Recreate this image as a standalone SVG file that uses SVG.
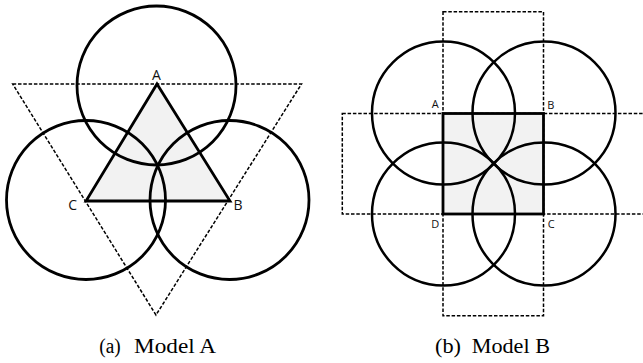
<svg xmlns="http://www.w3.org/2000/svg" width="643" height="363" viewBox="0 0 643 363">
<style>
.bg{fill:#ffffff}
.circ{fill:none;stroke:#000;stroke-width:2.8}
.circB{fill:none;stroke:#000;stroke-width:2.5}
.shape{fill:#f2f2f2;stroke:#000;stroke-width:2.8;stroke-linejoin:miter}
.dash{fill:none;stroke:#000;stroke-width:1.5;stroke-dasharray:3.5 1.8}
.lblA{font-family:"Open Sans","Noto Sans",sans-serif;font-size:14px;fill:#111;text-anchor:middle}
.lblB{font-family:"Open Sans","Noto Sans",sans-serif;font-size:11px;fill:#111;text-anchor:middle}
.cap{font-family:"Liberation Serif","Times New Roman",serif;font-size:20px;fill:#000}
</style>
<rect class="bg" x="0" y="0" width="643" height="363"/>
<g id="modelA">
  <g id="connectors-A">
    <polygon class="dash" points="12.7,84 301.5,84 156,315"/>
  </g>
  <g id="triangleA">
    <polygon class="shape" points="157,84 230,201 86,201"/>
  </g>
  <g id="circleA-A"><circle class="circ" cx="156.5" cy="85.5" r="79.5"/></g>
  <g id="circleA-C"><circle class="circ" cx="86" cy="200" r="79.5"/></g>
  <g id="circleA-B"><circle class="circ" cx="229.5" cy="200" r="79.5"/></g>
  <g id="labelsA">
    <text class="lblA" x="156.5" y="79.5">A</text>
    <text class="lblA" x="72.7" y="210">C</text>
    <text class="lblA" x="238" y="210">B</text>
  </g>
</g>
<g id="modelB">
  <g id="connectors-B">
    <rect class="dash" x="443" y="11.7" width="100.5" height="304"/>
    <rect class="dash" x="342.3" y="113.5" width="303" height="100.5"/>
  </g>
  <g id="squareB">
    <rect class="shape" x="443" y="113.5" width="100.5" height="100.5"/>
  </g>
  <g id="circleB-A"><circle class="circB" cx="443.5" cy="113" r="71.5"/></g>
  <g id="circleB-B"><circle class="circB" cx="544" cy="113" r="71.5"/></g>
  <g id="circleB-D"><circle class="circB" cx="443.5" cy="214" r="71.5"/></g>
  <g id="circleB-C"><circle class="circB" cx="544" cy="214" r="71.5"/></g>
  <g id="labelsB">
    <text class="lblB" x="435.3" y="108">A</text>
    <text class="lblB" x="550.7" y="108.5">B</text>
    <text class="lblB" x="435.3" y="228">D</text>
    <text class="lblB" x="551.3" y="228">C</text>
  </g>
</g>
<g id="captions">
  <text class="cap" x="99.3" y="353" textLength="21.4" lengthAdjust="spacingAndGlyphs">(a)</text>
  <text class="cap" x="134" y="353" textLength="82" lengthAdjust="spacingAndGlyphs">Model A</text>
  <text class="cap" x="435" y="353" textLength="26" lengthAdjust="spacingAndGlyphs">(b)</text>
  <text class="cap" x="471.7" y="353" textLength="78.3" lengthAdjust="spacingAndGlyphs">Model B</text>
</g>
</svg>
